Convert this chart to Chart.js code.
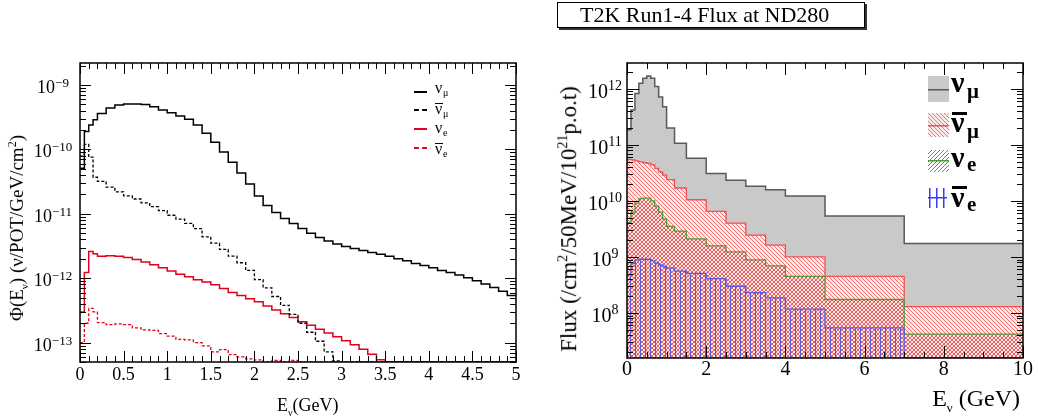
<!DOCTYPE html>
<html>
<head>
<meta charset="utf-8">
<title>Neutrino flux</title>
<script src="https://cdn.jsdelivr.net/npm/chart.js@4.4.1/dist/chart.umd.min.js"></script>
<style>
  body { margin: 0; background: #fff; font-family: "Liberation Serif", "DejaVu Serif", serif; }
  #wrap { position: relative; width: 1038px; height: 419px; overflow: hidden; background: #fff; }
  canvas { position: absolute; top: 0; }
  #fluxLeft { left: 0; }
  #fluxRight { left: 540px; }
  .txt { position: absolute; white-space: nowrap; line-height: 1; color: #000; }
  .rot { transform: translate(-50%, -50%) rotate(-90deg); }
  .b { font-weight: bold; }
  .legLine { position: absolute; width: 13px; height: 0; }
  .ov { position: absolute; background: #000; }
  #title { position: absolute; left: 557px; top: 2px; width: 308px; height: 26px; border: 1px solid #000;
           box-shadow: 2px 2px 0 #333; font-size: 22px; line-height: 24px; padding-left: 22px;
           box-sizing: border-box; background: #fff; white-space: nowrap; }
  .sw { position: absolute; left: 928px; }
</style>
</head>
<body>
<div id="wrap">
  <canvas id="fluxLeft" width="540" height="419"></canvas>
  <canvas id="fluxRight" width="498" height="419"></canvas>

  <div id="title">T2K Run1-4 Flux at ND280</div>

  <!-- left panel axis titles -->
  <div class="txt rot" style="left:18px;top:228px;font-size:19px">Φ(E<sub style="font-size:11px">ν</sub>) (ν/POT/GeV/cm<sup style="font-size:12px">2</sup>)</div>
  <div class="txt" style="left:277px;top:396px;font-size:18px">E<sub style="font-size:10px">ν</sub>(GeV)</div>

  <!-- left legend -->
  <div class="legLine" style="left:414px;top:91px;border-top:2px solid #000"></div>
  <div class="txt" style="left:435px;top:80px;font-size:16px">ν</div>
  <div class="txt" style="left:443px;top:88px;font-size:10px">μ</div>

  <div class="legLine" style="left:414px;top:109px;border-top:2px dashed #000"></div>
  <div class="ov" style="left:435px;top:103px;width:8px;height:1px"></div>
  <div class="txt" style="left:435px;top:101px;font-size:16px">ν</div>
  <div class="txt" style="left:443px;top:109px;font-size:10px">μ</div>

  <div class="legLine" style="left:414px;top:128px;border-top:2px solid #e2001a"></div>
  <div class="txt" style="left:435px;top:120px;font-size:16px">ν</div>
  <div class="txt" style="left:443px;top:128px;font-size:10px">e</div>

  <div class="legLine" style="left:414px;top:147px;border-top:2px dashed #e2001a"></div>
  <div class="ov" style="left:435px;top:143px;width:8px;height:1px"></div>
  <div class="txt" style="left:435px;top:141px;font-size:16px">ν</div>
  <div class="txt" style="left:443px;top:149px;font-size:10px">e</div>

  <!-- right panel axis titles -->
  <div class="txt rot" style="left:568px;top:219px;font-size:23px">Flux (/cm<sup style="font-size:14px">2</sup>/50MeV/10<sup style="font-size:14px">21</sup>p.o.t)</div>
  <div class="txt" style="right:18px;top:386px;font-size:24px">E<sub style="font-size:13px">ν</sub> (GeV)</div>

  <!-- right legend -->
  <canvas class="sw" id="swNumu" width="21" height="26" style="top:76px"></canvas>
  <canvas class="sw" id="swNumubar" width="21" height="24" style="top:113px"></canvas>
  <canvas class="sw" id="swNue" width="21" height="22" style="top:150px"></canvas>
  <canvas class="sw" id="swNuebar" width="21" height="20" style="top:188px"></canvas>

  <div class="txt b" style="left:951px;top:67px;font-size:30px">ν</div>
  <div class="txt b" style="left:967px;top:81px;font-size:21px">μ</div>

  <div class="ov" style="left:952px;top:112px;width:15px;height:2.5px"></div>
  <div class="txt b" style="left:951px;top:107px;font-size:30px">ν</div>
  <div class="txt b" style="left:967px;top:121px;font-size:21px">μ</div>

  <div class="txt b" style="left:951px;top:142px;font-size:30px">ν</div>
  <div class="txt b" style="left:967px;top:154px;font-size:21px">e</div>

  <div class="ov" style="left:952px;top:186px;width:15px;height:2.5px"></div>
  <div class="txt b" style="left:951px;top:182px;font-size:30px">ν</div>
  <div class="txt b" style="left:967px;top:194px;font-size:21px">e</div>
</div>

<script>
// ---- left panel: flux per POT, bin edges in GeV ----
const leftEdges = [0, 0.05, 0.1, 0.15, 0.2, 0.3, 0.4, 0.5, 0.6, 0.7, 0.8, 0.9, 1.0,
  1.1, 1.2, 1.3, 1.4, 1.5, 1.6, 1.7, 1.8, 1.9, 2.0, 2.1, 2.2, 2.3, 2.4, 2.5, 2.6, 2.7, 2.8, 2.9, 3.0,
  3.1, 3.2, 3.3, 3.4, 3.5, 3.6, 3.7, 3.8, 3.9, 4.0, 4.1, 4.2, 4.3, 4.4, 4.5, 4.6, 4.7, 4.8, 4.9, 5.0];

const fluxNumu = [5.1e-11, 1.9e-10, 2.4e-10, 2.9e-10,
  3.6e-10, 4.4e-10, 4.9e-10, 5.1e-10, 5.1e-10, 5.0e-10, 4.6e-10, 4.1e-10,
  3.7e-10, 3.3e-10, 2.95e-10, 2.4e-10, 1.78e-10, 1.29e-10, 9.1e-11, 6.3e-11, 4.3e-11, 2.9e-11,
  1.9e-11, 1.35e-11, 1.05e-11, 8.5e-12, 7.1e-12, 5.9e-12, 5.0e-12, 4.3e-12, 3.8e-12, 3.4e-12,
  3.1e-12, 2.9e-12, 2.7e-12, 2.5e-12, 2.35e-12, 2.2e-12, 2.0e-12, 1.86e-12, 1.7e-12, 1.58e-12,
  1.45e-12, 1.32e-12, 1.23e-12, 1.12e-12, 1.02e-12, 9.1e-13, 8.1e-13, 7.2e-13, 6.3e-13, 5.4e-13];

const fluxNumubar = [7.9e-11, 1.2e-10, 7.6e-11, 3.7e-11,
  3.2e-11, 2.6e-11, 2.2e-11, 1.9e-11, 1.7e-11, 1.48e-11, 1.29e-11, 1.12e-11,
  9.5e-12, 8.3e-12, 7.1e-12, 5.9e-12, 4.4e-12, 3.5e-12, 2.8e-12, 2.2e-12, 1.74e-12, 1.32e-12,
  9.5e-13, 7.1e-13, 5.2e-13, 3.8e-13, 2.75e-13, 2.0e-13, 1.45e-13, 1.05e-13, 7.2e-14, 5.2e-14,
  5e-14, 5e-14, 5e-14, 5e-14, 5e-14, 5e-14, 5e-14, 5e-14, 5e-14, 5e-14,
  5e-14, 5e-14, 5e-14, 5e-14, 5e-14, 5e-14, 5e-14, 5e-14, 5e-14, 5e-14];

const fluxNue = [3.0e-13, 1.23e-12, 2.6e-12, 2.4e-12,
  2.2e-12, 2.24e-12, 2.2e-12, 2.1e-12, 1.95e-12, 1.78e-12, 1.62e-12, 1.45e-12,
  1.29e-12, 1.15e-12, 1.05e-12, 9.5e-13, 8.7e-13, 7.9e-13, 6.9e-13, 6.0e-13, 5.4e-13, 4.8e-13,
  4.3e-13, 3.7e-13, 3.2e-13, 2.8e-13, 2.45e-13, 2.1e-13, 1.86e-13, 1.62e-13, 1.41e-13, 1.23e-13,
  1.07e-13, 9.3e-14, 7.9e-14, 6.6e-14, 5.4e-14, 5e-14, 5e-14, 5e-14, 5e-14, 5e-14,
  5e-14, 5e-14, 5e-14, 5e-14, 5e-14, 5e-14, 5e-14, 5e-14, 5e-14, 5e-14];

const fluxNuebar = [1.0e-13, 2.0e-13, 3.4e-13, 3.0e-13,
  2.05e-13, 1.9e-13, 1.95e-13, 1.9e-13, 1.7e-13, 1.58e-13, 1.55e-13, 1.38e-13,
  1.26e-13, 1.12e-13, 1.1e-13, 1.0e-13, 8.9e-14, 7.2e-14, 7.8e-14, 6.5e-14, 6.0e-14, 5.6e-14,
  5.4e-14, 5e-14, 5.3e-14, 5e-14, 5.3e-14, 5e-14, 5e-14, 5e-14, 5e-14, 5e-14,
  5e-14, 5e-14, 5e-14, 5e-14, 5e-14, 5e-14, 5e-14, 5e-14, 5e-14, 5e-14,
  5e-14, 5e-14, 5e-14, 5e-14, 5e-14, 5e-14, 5e-14, 5e-14, 5e-14, 5e-14];

const leftXTicks = [0, 0.5, 1, 1.5, 2, 2.5, 3, 3.5, 4, 4.5, 5];
const leftYTicks = [1e-13, 1e-12, 1e-11, 1e-10, 1e-9];

// ---- right panel: ND280 flux per 50 MeV per 1e21 POT ----
const rightEdges = [0, 0.1, 0.2, 0.3, 0.4, 0.5, 0.6, 0.7, 0.8, 0.9, 1.0, 1.2, 1.5, 2.0, 2.5, 3.0, 3.5, 4.0, 5.0, 7.0, 10.0];
const ndNumu    = [1.86e11, 4.2e11, 8.3e11, 1.26e12, 1.55e12, 1.7e12, 1.55e12, 1.1e12, 7.2e11, 4.8e11,
                   2.0e11, 1.07e11, 5.8e10, 3.1e10, 2.35e10, 1.82e10, 1.58e10, 1.23e10, 5.4e9, 1.74e9];
const ndNumubar = [5.5e10, 5.4e10, 5.2e10, 5.0e10, 4.8e10, 4.7e10, 4.4e10, 3.8e10, 3.3e10, 2.9e10,
                   2.4e10, 1.7e10, 1.05e10, 6.5e9, 4.0e9, 2.45e9, 1.62e9, 1.0e9, 4.5e8, 1.3e8];
const ndNue     = [4.1e9, 6.3e9, 9.1e9, 1.1e10, 1.12e10, 1.12e10, 1.0e10, 8.1e9, 6.3e9, 4.8e9,
                   3.5e9, 2.9e9, 2.1e9, 1.58e9, 1.23e9, 8.9e8, 6.9e8, 4.5e8, 1.74e8, 4.2e7];
const ndNuebar  = [4.8e8, 7.6e8, 8.9e8, 9.1e8, 9.1e8, 9.1e8, 8.5e8, 7.8e8, 7.2e8, 6.8e8,
                   6.3e8, 5.6e8, 5.1e8, 4.1e8, 3.0e8, 2.3e8, 1.86e8, 1.17e8, 5.4e7, 1.6e7];

const rightXTicks = [0, 2, 4, 6, 8, 10];
const rightYTicks = [1e8, 1e9, 1e10, 1e11, 1e12];

const RED = '#e2001a';
const SERIF = '"Liberation Serif", "DejaVu Serif", serif';

// histogram -> stepped points (left edges + closing right edge)
function histPoints(edges, vals) {
  const pts = vals.map((v, i) => ({ x: edges[i], y: v }));
  pts.push({ x: edges[edges.length - 1], y: vals[vals.length - 1] });
  return pts;
}

// ROOT style frame, inward ticks on all four sides, 10^n labels with raised exponent
const rootFrame = {
  id: 'rootFrame',
  afterDatasetsDraw(chart, args, o) {
    const { ctx, chartArea: a, scales: { x, y } } = chart;
    ctx.save();
    ctx.strokeStyle = '#000';
    ctx.lineWidth = 1;
    ctx.beginPath();
    const n = Math.round((x.max - x.min) / o.xMinor);
    for (let i = 0; i <= n; i++) {
      const v = x.min + i * o.xMinor;
      const px = Math.round(x.getPixelForValue(v)) + 0.5;
      const r = v / o.xMajor;
      const len = Math.abs(r - Math.round(r)) < 1e-6 ? o.major : o.minor;
      ctx.moveTo(px, a.bottom); ctx.lineTo(px, a.bottom - len);
      ctx.moveTo(px, a.top); ctx.lineTo(px, a.top + len);
    }
    const e0 = Math.floor(Math.log10(y.min)), e1 = Math.ceil(Math.log10(y.max));
    for (let e = e0; e <= e1; e++) {
      for (let k = 1; k <= 9; k++) {
        const v = k * Math.pow(10, e);
        if (v < y.min || v > y.max) continue;
        const py = Math.round(y.getPixelForValue(v)) + 0.5;
        const len = k === 1 ? o.major : o.minor;
        ctx.moveTo(a.left, py); ctx.lineTo(a.left + len, py);
        ctx.moveTo(a.right, py); ctx.lineTo(a.right - len, py);
      }
    }
    ctx.stroke();
    ctx.lineWidth = o.frameWidth;
    ctx.strokeRect(a.left, a.top, a.right - a.left, a.bottom - a.top);

    // tick labels
    ctx.fillStyle = '#000';
    ctx.textBaseline = 'alphabetic';
    ctx.textAlign = 'center';
    ctx.font = o.xSize + 'px ' + SERIF;
    x.ticks.forEach(t => ctx.fillText(String(t.value), x.getPixelForValue(t.value), a.bottom + o.xDy));
    ctx.textAlign = 'left';
    y.ticks.forEach(t => {
      const py = y.getPixelForValue(t.value);
      const exp = String(Math.round(Math.log10(t.value))).replace('-', '\u2212');
      ctx.font = o.baseSize + 'px ' + SERIF;
      const wb = ctx.measureText('10').width;
      ctx.font = o.expSize + 'px ' + SERIF;
      const we = ctx.measureText(exp).width;
      const x0 = o.labelCx - (wb + we) / 2;
      ctx.fillText(exp, x0 + wb, py + o.expDy);
      ctx.font = o.baseSize + 'px ' + SERIF;
      ctx.fillText('10', x0, py + o.baseDy);
    });
    ctx.restore();
  }
};

function xScale(min, max, ticks, height) {
  return {
    type: 'linear', min, max, bounds: 'data',
    grid: { display: false }, border: { display: false },
    afterBuildTicks: s => { s.ticks = ticks.map(v => ({ value: v })); },
    afterFit: s => { s.height = height; s.paddingLeft = 0; s.paddingRight = 0; },
    ticks: { display: false }
  };
}

function yScale(min, max, ticks, width) {
  return {
    type: 'logarithmic', min, max, bounds: 'data',
    grid: { display: false }, border: { display: false },
    afterBuildTicks: s => { s.ticks = ticks.map(v => ({ value: v })); },
    afterFit: s => { s.width = width; s.paddingTop = 0; s.paddingBottom = 0; },
    ticks: { display: false }
  };
}

new Chart(document.getElementById('fluxLeft'), {
  type: 'line',
  data: {
    datasets: [
      { label: 'nu_mu', data: histPoints(leftEdges, fluxNumu), borderColor: '#000', borderWidth: 1.5 },
      { label: 'anti nu_mu', data: histPoints(leftEdges, fluxNumubar), borderColor: '#000', borderWidth: 1.3, borderDash: [3, 2] },
      { label: 'nu_e', data: histPoints(leftEdges, fluxNue), borderColor: RED, borderWidth: 1.5 },
      { label: 'anti nu_e', data: histPoints(leftEdges, fluxNuebar), borderColor: RED, borderWidth: 1.3, borderDash: [3, 2] }
    ]
  },
  options: {
    responsive: false, animation: false, devicePixelRatio: 1,
    datasets: { line: { stepped: true, pointRadius: 0, fill: false } },
    layout: { padding: { top: 63, right: 24, left: 0, bottom: 0 } },
    plugins: {
      legend: { display: false }, tooltip: { enabled: false },
      rootFrame: { xMinor: 0.1, xMajor: 0.5, major: 11, minor: 6, frameWidth: 1.5,
                   xSize: 18, xDy: 18, baseSize: 18, expSize: 13, labelCx: 53, baseDy: 8, expDy: 2 }
    },
    scales: {
      x: xScale(0, 5, leftXTicks, 57),
      y: yScale(5e-14, 2.2e-9, leftYTicks, 80)
    }
  },
  plugins: [rootFrame]
});

// hatch tiles for the filled histograms
function tile(w, h, bg, color, kind) {
  const c = document.createElement('canvas');
  c.width = w; c.height = h;
  const g = c.getContext('2d');
  if (bg) { g.fillStyle = bg; g.fillRect(0, 0, w, h); }
  g.fillStyle = color;
  if (kind === '|') g.fillRect(0, 0, 1, h);
  else for (let i = 0; i < w; i++) g.fillRect(i, kind === '\\' ? i : w - 1 - i, 1, 1);
  return c;
}
const redTile = tile(4, 4, '#fde9e9', '#f27272', '\\');
const greenTile = tile(4, 4, null, '#4c9e3e', '/');
const blueTile = tile(5, 1, null, '#5a5ae0', '|');

const rctx = document.getElementById('fluxRight').getContext('2d');
const redPat = rctx.createPattern(redTile, 'repeat');
const greenPat = rctx.createPattern(greenTile, 'repeat');
const bluePat = rctx.createPattern(blueTile, 'repeat');

new Chart(rctx, {
  type: 'line',
  data: {
    datasets: [
      { label: 'anti nu_e', data: histPoints(rightEdges, ndNuebar), borderColor: '#5a5ae0', backgroundColor: bluePat, borderWidth: 1.3 },
      { label: 'nu_e', data: histPoints(rightEdges, ndNue), borderColor: '#4f9a3c', backgroundColor: greenPat, borderWidth: 1.3 },
      { label: 'anti nu_mu', data: histPoints(rightEdges, ndNumubar), borderColor: '#f05050', backgroundColor: redPat, borderWidth: 1.3 },
      { label: 'nu_mu', data: histPoints(rightEdges, ndNumu), borderColor: '#5a5a5a', backgroundColor: '#c9c9c9', borderWidth: 1.5 }
    ]
  },
  options: {
    responsive: false, animation: false, devicePixelRatio: 1,
    datasets: { line: { stepped: true, pointRadius: 0, fill: 'start' } },
    layout: { padding: { top: 63, right: 15, left: 0, bottom: 0 } },
    plugins: {
      legend: { display: false }, tooltip: { enabled: false },
      rootFrame: { xMinor: 0.5, xMajor: 2, major: 12, minor: 6, frameWidth: 1.5,
                   xSize: 20, xDy: 17, baseSize: 20, expSize: 14, labelCx: 65, baseDy: 9, expDy: 1 }
    },
    scales: {
      x: xScale(0, 10, rightXTicks, 61),
      y: yScale(1.57e7, 2.9e12, rightYTicks, 87)
    }
  },
  plugins: [rootFrame]
});

// legend swatches (box + centre line, like the ROOT legend)
function swatch(id, fill, line, lineY) {
  const c = document.getElementById(id);
  const g = c.getContext('2d');
  g.fillStyle = '#fff'; g.fillRect(0, 0, c.width, c.height);
  g.fillStyle = typeof fill === 'string' ? fill : g.createPattern(fill, 'repeat');
  g.fillRect(0, 0, c.width, c.height);
  g.fillStyle = line;
  g.fillRect(0, lineY, c.width, 1.5);
}
swatch('swNumu', '#c9c9c9', '#5a5a5a', 13);
swatch('swNumubar', redTile, '#f05050', 12);
swatch('swNue', greenTile, '#4f9a3c', 10);
(function () {
  const c = document.getElementById('swNuebar'), g = c.getContext('2d');
  g.fillStyle = '#3a3aff';
  [1, 8, 15].forEach(x => g.fillRect(x, 0, 1.5, c.height));
  g.fillRect(0, 9, 19, 1.5);
})();
</script>
</body>
</html>
